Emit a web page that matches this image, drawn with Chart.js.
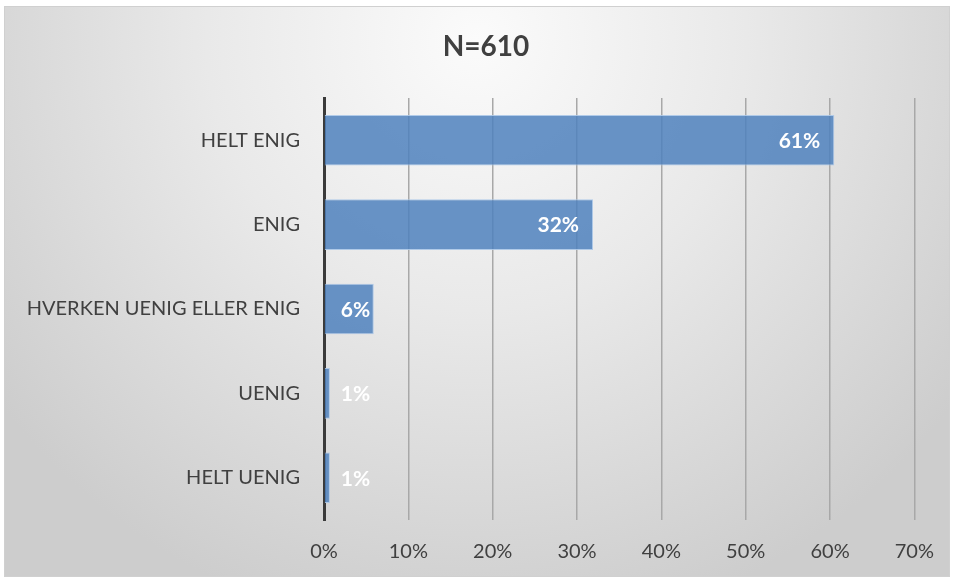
<!DOCTYPE html>
<html>
<head>
<meta charset="utf-8">
<script src="https://cdn.jsdelivr.net/npm/chart.js@4/dist/chart.umd.min.js"></script>
<style>
  html, body { margin: 0; padding: 0; background: #fff; }
  #wrap { position: relative; width: 954px; height: 577px; }
</style>
</head>
<body>
<div id="wrap"><canvas id="myChart"></canvas></div>
<script>
// data
const categories = ['HELT ENIG', 'ENIG', 'HVERKEN UENIG ELLER ENIG', 'UENIG', 'HELT UENIG'];
const shares = [60.5, 31.9, 5.9, 0.7, 0.7];
const shareLabels = ['61%', '32%', '6%', '1%', '1%'];
const tickValues = [0, 10, 20, 30, 40, 50, 60, 70];
const chartTitle = 'N=610';

const FONT = 'Lato, "Open Sans", sans-serif';

// gradient background + frame + title
const bgPlugin = {
    id: 'bgPlugin',
    beforeDraw(chart) {
        const ctx = chart.ctx;
        const w = chart.width, h = chart.height;
        ctx.save();
        ctx.fillStyle = '#ffffff';
        ctx.fillRect(0, 0, w, h);
        const g = ctx.createRadialGradient(w / 2, 40, 0, w / 2, 40, 600);
        g.addColorStop(0, '#fbfbfb');
        g.addColorStop(0.45, '#e9e9e9');
        g.addColorStop(1, '#cdcdcd');
        ctx.fillStyle = g;
        ctx.fillRect(4.5, 6.5, w - 9, h - 7);
        ctx.strokeStyle = '#d0d0d0';
        ctx.lineWidth = 1;
        ctx.strokeRect(4.5, 6.5, w - 9, h - 7);

        ctx.font = 'bold 28px ' + FONT;
        ctx.fillStyle = '#404040';
        ctx.textAlign = 'center';
        ctx.textBaseline = 'middle';
        ctx.fillText(chartTitle, 486, 47);
        ctx.restore();
    }
};

// value labels on bars
const labelPlugin = {
    id: 'labelPlugin',
    afterDatasetsDraw(chart) {
        const ctx = chart.ctx;
        const meta = chart.getDatasetMeta(0);
        ctx.save();
        ctx.font = 'bold 21px ' + FONT;
        ctx.fillStyle = '#ffffff';
        ctx.textBaseline = 'middle';
        meta.data.forEach((bar, i) => {
            const txt = shareLabels[i];
            const tw = ctx.measureText(txt).width;
            const len = bar.x - bar.base;
            if (len > tw + 36) {
                ctx.textAlign = 'right';
                ctx.fillText(txt, bar.x - 14, bar.y + 1);
            } else {
                ctx.textAlign = 'left';
                ctx.fillText(txt, bar.base + 16, bar.y + 1);
            }
        });
        ctx.restore();
    }
};

const data = {
    labels: categories,
    datasets: [{
        data: shares,
        backgroundColor: 'rgba(79, 129, 189, 0.85)',
        borderColor: 'rgba(170, 198, 232, 0.9)',
        borderWidth: 1,
        barPercentage: 0.6,
        categoryPercentage: 1.0
    }]
};

const config = {
    type: 'bar',
    data: data,
    plugins: [bgPlugin, labelPlugin],
    options: {
        indexAxis: 'y',
        responsive: true,
        maintainAspectRatio: false,
        animation: false,
        layout: { padding: { left: 5, right: 33, top: 98, bottom: 0 } },
        plugins: {
            legend: { display: false },
            tooltip: { enabled: false },
            title: { display: false }
        },
        scales: {
            x: {
                min: 0,
                max: 70,
                afterBuildTicks(scale) {
                    scale.ticks = tickValues.map(v => ({ value: v }));
                },
                afterFit(scale) { scale.height = 57; },
                grid: { color: '#a8a8a8', lineWidth: 1.5, drawTicks: false },
                border: { display: false },
                ticks: {
                    color: '#404040',
                    padding: 20,
                    font: { family: FONT, size: 20 },
                    callback: (v) => v + '%'
                }
            },
            y: {
                afterFit(scale) { scale.width = 319; },
                grid: { display: false, drawTicks: false },
                border: { display: true, color: '#3a3a3a', width: 3 },
                ticks: {
                    color: '#404040',
                    padding: 24,
                    font: { family: FONT, size: 20 }
                }
            }
        }
    }
};

const myChart = new Chart(document.getElementById('myChart'), config);
</script>
</body>
</html>
